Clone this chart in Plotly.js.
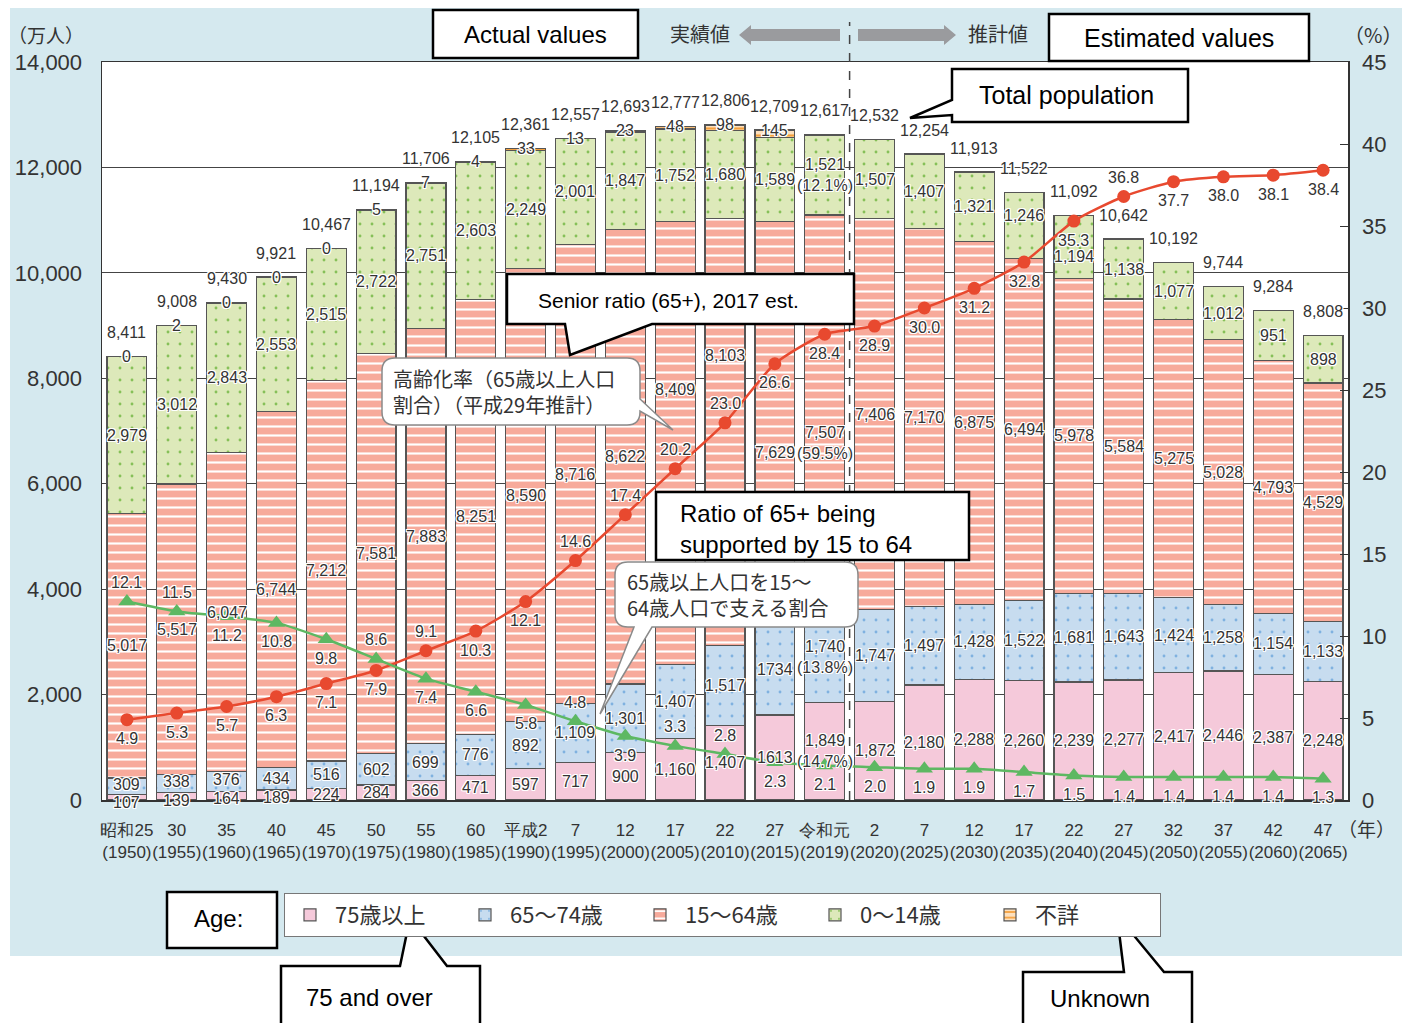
<!DOCTYPE html>
<html>
<head>
<meta charset="utf-8">
<script src="https://cdn.plot.ly/plotly-3.0.1.min.js"></script>
<style>
  html, body { margin: 0; padding: 0; background: #fff; }
  #chart { width: 1402px; height: 1023px; }
</style>
</head>
<body>
<div id="chart"></div>
<script>
// ---- Population by age group, Japan (unit: 10,000 people) ----
const eraLabels = ['昭和25','30','35','40','45','50','55','60','平成2','7','12','17','22','27','令和元','2','7','12','17','22','27','32','37','42','47'];
const years = [1950,1955,1960,1965,1970,1975,1980,1985,1990,1995,2000,2005,2010,2015,2019,2020,2025,2030,2035,2040,2045,2050,2055,2060,2065];

const age75plus = [107,139,164,189,224,284,366,471,597,717,900,1160,1407,1613,1849,1872,2180,2288,2260,2239,2277,2417,2446,2387,2248];
const age65to74 = [309,338,376,434,516,602,699,776,892,1109,1301,1407,1517,1734,1740,1747,1497,1428,1522,1681,1643,1424,1258,1154,1133];
const age15to64 = [5017,5517,6047,6744,7212,7581,7883,8251,8590,8716,8622,8409,8103,7629,7507,7406,7170,6875,6494,5978,5584,5275,5028,4793,4529];
const age0to14  = [2979,3012,2843,2553,2515,2722,2751,2603,2249,2001,1847,1752,1680,1589,1521,1507,1407,1321,1246,1194,1138,1077,1012,951,898];
const ageUnknown = [0,2,0,0,0,5,7,4,33,13,23,48,98,145,null,null,null,null,null,null,null,null,null,null,null];
const totalPop = [8411,9008,9430,9921,10467,11194,11706,12105,12361,12557,12693,12777,12806,12709,12617,12532,12254,11913,11522,11092,10642,10192,9744,9284,8808];

// Share of each age group in 2019 (%)
const share2019 = { age0to14: 12.1, age15to64: 59.5, age65to74: 13.8, age75plus: 14.7 };

// Ageing rate: share of population aged 65+ (%)
const agingRate = [4.9,5.3,5.7,6.3,7.1,7.9,9.1,10.3,12.1,14.6,17.4,20.2,23.0,26.6,28.4,28.9,30.0,31.2,32.8,35.3,36.8,37.7,38.0,38.1,38.4];
// Number of people aged 15-64 per person aged 65+
const supportRatio = [12.1,11.5,11.2,10.8,9.8,8.6,7.4,6.6,5.8,4.8,3.9,3.3,2.8,2.3,2.1,2.0,1.9,1.9,1.7,1.5,1.4,1.4,1.4,1.4,1.3];

const yearIdx2019 = years.indexOf(2019);
const yearIdx2015 = years.indexOf(2015);

// ---- styling ----
const NUM_FONT = "'Liberation Sans', Arial, sans-serif";
const SANS = "'Liberation Sans', Arial, sans-serif";
const JP = "'Noto Sans CJK JP', 'Noto Sans', sans-serif";
const TXT = '#333333';
const HALO = '1px 1px 0 #fff, -1px -1px 0 #fff, 1px -1px 0 #fff, -1px 1px 0 #fff, 0 1px 0 #fff, 0 -1px 0 #fff, 1px 0 0 #fff, -1px 0 0 #fff';
const OUTLINE = { color: '#555', width: 1.2 };

const cats = eraLabels.map((e, i) => e + '<br>(' + years[i] + ')');

// pixel -> paper helpers for the plot frame (plot area: x 102..1348, y 62..800)
const PL = 102, PW = 1246, PB = 800, PH = 738;
const X = px => (px - PL) / PW;
const Y = py => (PB - py) / PH;
const P = pts => 'M' + pts.map(p => X(p[0]).toFixed(5) + ',' + Y(p[1]).toFixed(5)).join('L') + 'Z';

function fmt(v) { return v.toLocaleString('en-US'); }

function barTrace(name, values, pattern) {
  return {
    type: 'bar', name: name, x: cats, y: values,
    marker: { color: pattern.bgcolor, line: OUTLINE, pattern: pattern },
    hoverinfo: 'skip'
  };
}

const traces = [
  barTrace('75歳以上', age75plus, { shape: '', bgcolor: '#f5c9da', fgcolor: '#f5c9da' }),
  barTrace('65～74歳', age65to74, { shape: '.', bgcolor: '#c7dcef', fgcolor: '#7fb1e0', size: 12, solidity: 0.045, fillmode: 'replace' }),
  barTrace('15～64歳', age15to64, { shape: '-', bgcolor: '#f7aa9b', fgcolor: '#ffffff', size: 9, solidity: 0.24, fillmode: 'replace' }),
  barTrace('0～14歳', age0to14, { shape: '.', bgcolor: '#dde9ba', fgcolor: '#86c058', size: 12, solidity: 0.045, fillmode: 'replace' }),
  barTrace('不詳', ageUnknown, { shape: '-', bgcolor: '#fde0bd', fgcolor: '#f5a03c', size: 7, solidity: 0.3, fillmode: 'replace' }),
  {
    type: 'scatter', mode: 'lines+markers', x: cats, y: agingRate, yaxis: 'y2',
    line: { color: '#e8492f', width: 2.5, shape: 'spline', smoothing: 0.6 },
    marker: { symbol: 'circle', size: 13, color: '#e8492f' },
    showlegend: false, hoverinfo: 'skip'
  },
  {
    type: 'scatter', mode: 'lines+markers', x: cats, y: supportRatio, yaxis: 'y2',
    line: { color: '#5db862', width: 2.5, shape: 'spline', smoothing: 0.6 },
    marker: { symbol: 'triangle-up', size: 15, color: '#5db862' },
    showlegend: false, hoverinfo: 'skip'
  }
];

// ---- value labels ----
const annotations = [];
function label(x, y, text, opts) {
  annotations.push(Object.assign({
    x: x, y: y, xref: 'x', yref: 'y', text: text, showarrow: false,
    xanchor: 'center', yanchor: 'middle',
    font: { family: NUM_FONT, size: 16, color: TXT, shadow: HALO }
  }, opts || {}));
}

// stacked segment labels, centred in each segment
const stackSeries = [
  { key: 'age75plus', vals: age75plus },
  { key: 'age65to74', vals: age65to74 },
  { key: 'age15to64', vals: age15to64 },
  { key: 'age0to14', vals: age0to14 }
];
// a few labels moved off the lines or off their neighbours (pixels, positive = up)
const labelNudge = {
  'age15to64:11': 54, 'age15to64:12': 77, 'age15to64:13': -30, 'age15to64:14': -30,
  'age0to14:19': -10, 'age0to14:18': 10,
  'age75plus:0': -5, 'age75plus:1': -4, 'age75plus:2': -3, 'age75plus:3': -2,
  'age65to74:0': 2, 'age65to74:1': 2, 'age65to74:2': 2
};

cats.forEach((c, i) => {
  let base = 0;
  stackSeries.forEach(s => {
    const v = s.vals[i];
    let txt = (i === yearIdx2015 && (s.key === 'age75plus' || s.key === 'age65to74')) ? String(v) : fmt(v);
    if (i === yearIdx2019) txt += '<br>(' + share2019[s.key].toFixed(1) + '%)';
    const shift = labelNudge[s.key + ':' + i] || 0;
    label(c, base + v / 2, txt, { yshift: shift });
    base += v;
  });
  if (ageUnknown[i] !== null) label(c, totalPop[i], fmt(ageUnknown[i]));
  label(c, totalPop[i], fmt(totalPop[i]), { yshift: 24 });
});

// line labels: placed above (+) or below (-) each marker
const agingSide  = [-1,-1,-1,-1,-1,-1,1,-1,-1,1,1,1,1,-1,-1,-1,-1,-1,-1,-1,1,-1,-1,-1,-1];
const supportSide = [1,1,-1,-1,-1,1,-1,-1,-1,1,-1,1,1,-1,-1,-1,-1,-1,-1,-1,-1,-1,-1,-1,-1];
cats.forEach((c, i) => {
  label(c, agingRate[i], agingRate[i].toFixed(1), { yref: 'y2', yshift: 19 * agingSide[i] });
  label(c, supportRatio[i], supportRatio[i].toFixed(1), { yref: 'y2', yshift: 19 * supportSide[i] });
});

// ---- callouts and headings ----
function note(px, py, text, opts) {
  annotations.push(Object.assign({
    x: X(px), y: Y(py), xref: 'paper', yref: 'paper', text: text, showarrow: false,
    xanchor: 'center', yanchor: 'middle',
    font: { family: SANS, size: 24, color: '#000' }
  }, opts || {}));
}

note(535, 34, 'Actual values');
note(1179, 38, 'Estimated values', { font: { family: SANS, size: 25, color: '#000' } });
note(1066, 95, 'Total population', { font: { family: SANS, size: 25, color: '#000' } });
note(668, 300, 'Senior ratio (65+), 2017 est.', { font: { family: SANS, size: 21, color: '#000' } });
note(678, 529, 'Ratio of 65+ being<br>supported by 15 to 64', { xanchor: 'left', align: 'left', font: { family: SANS, size: 24, color: '#000' } });
note(218, 918, 'Age:');
note(304, 997, '75 and over', { xanchor: 'left' });
note(1100, 998, 'Unknown');
note(391, 391, '高齢化率（65歳以上人口<br>割合）（平成29年推計）', { xanchor: 'left', align: 'left', font: { family: JP, size: 20, color: TXT } });
note(625, 594, '65歳以上人口を15～<br>64歳人口で支える割合', { xanchor: 'left', align: 'left', font: { family: JP, size: 20, color: TXT } });
note(700, 33, '実績値', { font: { family: JP, size: 20, color: TXT } });
note(998, 33, '推計値', { font: { family: JP, size: 20, color: TXT } });
note(46, 35, '（万人）', { font: { family: JP, size: 19, color: TXT } });
note(1373, 35, '（%）', { font: { family: JP, size: 20, color: TXT } });
note(1366, 828, '（年）', { font: { family: JP, size: 19, color: TXT } });

function box(pts) {
  return { type: 'path', xref: 'paper', yref: 'paper', path: P(pts), fillcolor: '#fff', line: { color: '#000', width: 2.5 }, layer: 'above' };
}
function bubble(x0, y0, x1, y1, r, tailEdge, tail) {
  // rounded rectangle with a speech tail on the given edge
  const pt = (x, y) => X(x).toFixed(5) + ',' + Y(y).toFixed(5);
  let d = 'M' + pt(x0 + r, y0) + 'L' + pt(x1 - r, y0) + 'Q' + pt(x1, y0) + ' ' + pt(x1, y0 + r);
  if (tailEdge === 'right') d += tail.map(p => 'L' + pt(p[0], p[1])).join('');
  d += 'L' + pt(x1, y1 - r) + 'Q' + pt(x1, y1) + ' ' + pt(x1 - r, y1);
  if (tailEdge === 'bottom') d += tail.map(p => 'L' + pt(p[0], p[1])).join('');
  d += 'L' + pt(x0 + r, y1) + 'Q' + pt(x0, y1) + ' ' + pt(x0, y1 - r);
  d += 'L' + pt(x0, y0 + r) + 'Q' + pt(x0, y0) + ' ' + pt(x0 + r, y0) + 'Z';
  return { type: 'path', xref: 'paper', yref: 'paper', path: d, fillcolor: '#fff', line: { color: '#8a8a8a', width: 1.5 }, layer: 'above' };
}

const shapes = [
  // blue panel behind the chart and white plotting area
  { type: 'rect', xref: 'paper', yref: 'paper', x0: X(10), x1: X(1410), y0: Y(956), y1: Y(8), fillcolor: '#d5e9ef', line: { width: 0 }, layer: 'below' },
  { type: 'rect', xref: 'paper', yref: 'paper', x0: 0, x1: 1, y0: 0, y1: 1, fillcolor: '#ffffff', line: { width: 0 }, layer: 'below' },
  // divider between actual and projected values
  { type: 'line', xref: 'x', yref: 'paper', x0: 14.5, x1: 14.5, y0: 0, y1: Y(22), line: { color: '#444', width: 1.5, dash: 'dash' }, layer: 'above' },
  // arrows in the heading
  { type: 'path', xref: 'paper', yref: 'paper', path: P([[739, 35], [751, 25], [751, 29], [840, 29], [840, 41], [751, 41], [751, 45]]), fillcolor: '#9a9b9e', line: { width: 0 }, layer: 'above' },
  { type: 'path', xref: 'paper', yref: 'paper', path: P([[956, 35], [944, 25], [944, 29], [858, 29], [858, 41], [944, 41], [944, 45]]), fillcolor: '#9a9b9e', line: { width: 0 }, layer: 'above' },
  box([[433, 10], [638, 10], [638, 58], [433, 58]]),
  box([[1049, 14], [1309, 14], [1309, 61], [1049, 61]]),
  box([[952, 69], [1188, 69], [1188, 122], [952, 122], [952, 115], [910, 118], [952, 100]]),
  box([[507, 274], [854, 274], [854, 324], [652, 324], [570, 355], [565, 324], [507, 324]]),
  box([[656, 492], [969, 492], [969, 560], [656, 560]]),
  box([[167, 892], [277, 892], [277, 948], [167, 948]]),
  box([[281, 966], [400, 966], [410, 918], [447, 966], [480, 966], [480, 1035], [281, 1035]]),
  box([[1023, 972], [1124, 972], [1117, 915], [1164, 972], [1192, 972], [1192, 1035], [1023, 1035]]),
  bubble(382, 358, 640, 425, 13, 'right', [[640, 399], [673, 430], [640, 411]]),
  bubble(615, 562, 858, 627, 13, 'bottom', [[652, 627], [600, 714], [634, 627]])
];

const layout = {
  width: 1402, height: 1023, autosize: false,
  margin: { l: PL, r: 1402 - PL - PW, t: 62, b: 1023 - PB, pad: 0 },
  paper_bgcolor: '#ffffff', plot_bgcolor: 'rgba(0,0,0,0)',
  barmode: 'stack', bargap: 0.2,
  font: { family: NUM_FONT, color: TXT },
  xaxis: {
    type: 'category', range: [-0.5, 24.5], showline: true, linecolor: '#333', linewidth: 1.5, mirror: true,
    ticks: '', showgrid: false, ticklabelstandoff: 14, tickangle: 0,
    tickfont: { family: NUM_FONT, size: 17, color: TXT }, fixedrange: true
  },
  yaxis: {
    range: [0, 14000], dtick: 2000, tickformat: ',d', showgrid: true, gridcolor: '#444', gridwidth: 1,
    showline: true, linecolor: '#333', linewidth: 1.5, zeroline: false, ticks: '', ticklabelstandoff: 14,
    tickfont: { family: SANS, size: 22, color: TXT }, fixedrange: true
  },
  yaxis2: {
    overlaying: 'y', side: 'right', range: [0, 45], dtick: 5, showgrid: false, zeroline: false,
    showline: true, linecolor: '#333', linewidth: 1.5, ticks: 'inside', ticklen: 8, tickcolor: '#333',
    ticklabelstandoff: 8, tickfont: { family: SANS, size: 22, color: TXT }, fixedrange: true
  },
  legend: {
    orientation: 'h', x: X(284), y: Y(893), xanchor: 'left', yanchor: 'top',
    bgcolor: '#fff', bordercolor: '#777', borderwidth: 1,
    font: { family: JP, size: 22, color: TXT }, traceorder: 'normal',
    itemwidth: 40, entrywidth: 120, entrywidthmode: 'pixels'
  },
  shapes: shapes,
  annotations: annotations
};

Plotly.newPlot('chart', traces, layout, { staticPlot: true, displayModeBar: false });
</script>
</body>
</html>
